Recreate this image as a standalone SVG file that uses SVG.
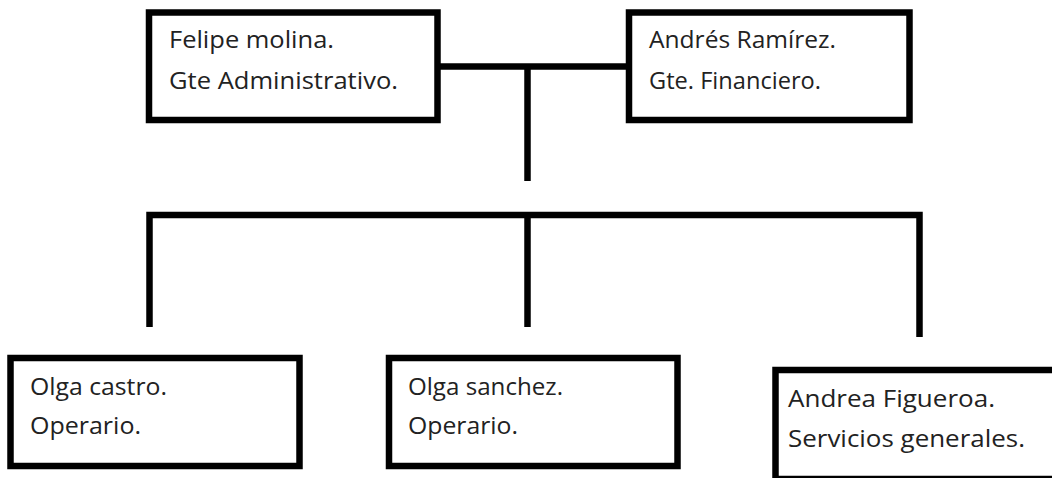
<svg xmlns="http://www.w3.org/2000/svg" width="1052" height="478" viewBox="0 0 1052 478">
<style>
.box{fill:#fff;stroke:#000;stroke-width:6.5}
.lbl{font-family:"Open Sans","Noto Sans",sans-serif;font-size:23px;fill:#222}
.wire{fill:none;stroke:#000;stroke-width:6.5;stroke-linejoin:miter;stroke-linecap:butt}
</style>
<rect width="1052" height="478" fill="#fff"/>
<g id="connectors">
<path class="wire" d="M440 66.5 H626"/>
<path class="wire" d="M527.5 66.5 V181"/>
<path class="wire" d="M149.5 327 V215 H919.5 V337"/>
<path class="wire" d="M527.5 215 V327"/>
</g>
<g id="node-felipe">
<rect class="box" x="149" y="12.5" width="288.5" height="107.5"/>
<text class="lbl" x="169" y="47.5" textLength="165" lengthAdjust="spacingAndGlyphs">Felipe molina.</text>
<text class="lbl" x="169" y="89" textLength="229" lengthAdjust="spacingAndGlyphs">Gte Administrativo.</text>
</g>
<g id="node-andres">
<rect class="box" x="629" y="12.5" width="280.5" height="107.5"/>
<text class="lbl" x="649" y="47.5" textLength="187" lengthAdjust="spacingAndGlyphs">Andrés Ramírez.</text>
<text class="lbl" x="649" y="89" textLength="172" lengthAdjust="spacingAndGlyphs">Gte. Financiero.</text>
</g>
<g id="node-olga-castro">
<rect class="box" x="10.5" y="358" width="289" height="108"/>
<text class="lbl" x="30" y="394.5" textLength="137" lengthAdjust="spacingAndGlyphs">Olga castro.</text>
<text class="lbl" x="30" y="434" textLength="111" lengthAdjust="spacingAndGlyphs">Operario.</text>
</g>
<g id="node-olga-sanchez">
<rect class="box" x="389" y="358" width="288.5" height="108"/>
<text class="lbl" x="408" y="394.5" textLength="155" lengthAdjust="spacingAndGlyphs">Olga sanchez.</text>
<text class="lbl" x="408" y="434" textLength="110" lengthAdjust="spacingAndGlyphs">Operario.</text>
</g>
<g id="node-andrea">
<rect class="box" x="775.5" y="370" width="300" height="109"/>
<text class="lbl" x="788" y="406.5" textLength="207" lengthAdjust="spacingAndGlyphs">Andrea Figueroa.</text>
<text class="lbl" x="788" y="447" textLength="237" lengthAdjust="spacingAndGlyphs">Servicios generales.</text>
</g>
</svg>
